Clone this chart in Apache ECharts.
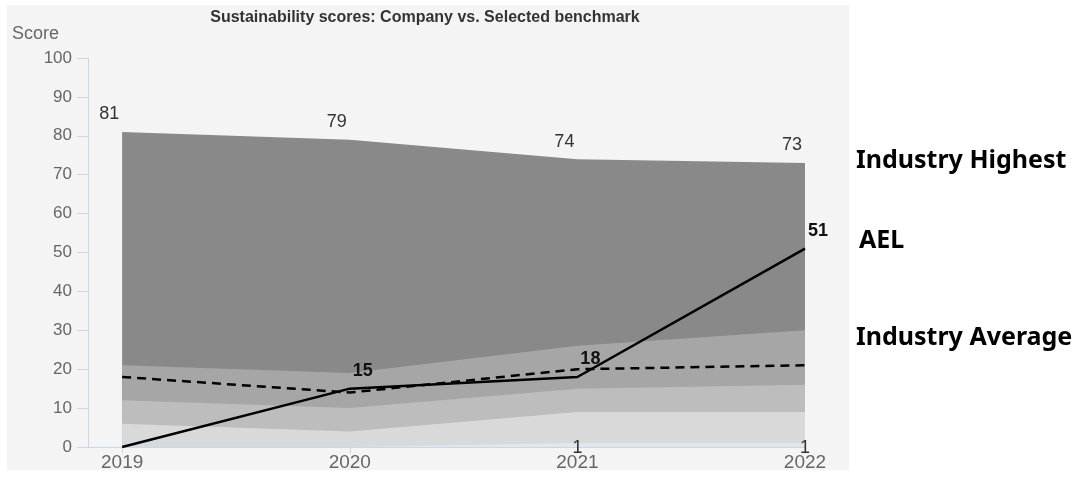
<!DOCTYPE html>
<html>
<head>
<meta charset="utf-8">
<script src="https://cdn.jsdelivr.net/npm/echarts@6/dist/echarts.min.js"></script>
<style>
html,body{margin:0;padding:0;background:#fff;}
#c{width:1074px;height:479px;}
</style>
</head>
<body>
<div id="c"></div>
<script>
const years = [2019, 2020, 2021, 2022];
const industryHighest = [81, 79, 74, 73];
const band3 = [21, 19, 26, 30];
const band2 = [12, 10, 15, 16];
const band1 = [6, 4, 9, 9];
const industryLowest = [0, 0, 1, 1];
const industryAverage = [18, 14, 20, 21];
const ael = [0, 15, 18, 51];
const yTicks = [0, 10, 20, 30, 40, 50, 60, 70, 80, 90, 100];

const pairs = arr => years.map((y, i) => [y, arr[i]]);
const font = 'Liberation Sans, Arial, sans-serif';
const hiddenSymbol = { symbol: 'circle', symbolSize: 1, showSymbol: true, itemStyle: { color: 'rgba(0,0,0,0)' } };

function areaSeries(name, arr, color, label) {
  return Object.assign({
    name, type: 'line', data: pairs(arr),
    lineStyle: { width: 0, color: color }, areaStyle: { color, opacity: 1 },
    label: label || { show: false }, silent: true
  }, hiddenSymbol);
}

const chart = echarts.init(document.getElementById('c'));
chart.setOption({
  animation: false,
  backgroundColor: '#ffffff',
  title: {
    text: 'Sustainability scores: Company vs. Selected benchmark',
    left: 420, top: 5, textAlign: 'center',
    textStyle: { fontFamily: font, fontSize: 16, fontWeight: 'bold', color: '#333' }
  },
  graphic: [
    { type: 'rect', z: -10, silent: true, shape: { x: 7, y: 5, width: 842, height: 465 }, style: { fill: '#f4f4f4' } },
    { type: 'text', left: 856, top: 148, style: { text: 'Industry Highest', font: 'bold 25px "Noto Sans", sans-serif', fill: '#000' } },
    { type: 'text', left: 859, top: 228, style: { text: 'AEL', font: 'bold 25px "Noto Sans", sans-serif', fill: '#000' } },
    { type: 'text', left: 856, top: 325, style: { text: 'Industry Average', font: 'bold 25px "Noto Sans", sans-serif', fill: '#000' } },
    { type: 'text', left: 12, top: 25, style: { text: 'Score', font: '18px ' + font, fill: '#666' } }
  ],
  grid: { left: 88, right: 269, top: 58, bottom: 32, containLabel: false },
  xAxis: {
    type: 'value', min: 2018.85, max: 2022,
    axisLine: { show: true, lineStyle: { color: '#ccd6eb' } },
    axisTick: { show: true, customValues: years, length: 6, lineStyle: { color: '#ccd6eb' } },
    splitLine: { show: false },
    axisLabel: {
      fontFamily: font, fontSize: 19, color: '#666', margin: 6,
      customValues: years, formatter: v => String(v)
    }
  },
  yAxis: {
    type: 'value', min: 0, max: 100, interval: 10,
    axisLine: { show: true, lineStyle: { color: '#ccd6eb' } },
    axisTick: { show: true, length: 11, lineStyle: { color: '#ccd6eb' } },
    splitLine: { show: false },
    axisLabel: { fontFamily: font, fontSize: 17, color: '#666', margin: 16,
      formatter: v => yTicks.includes(v) ? String(v) : '' }
  },
  series: [
    areaSeries('Industry Highest', industryHighest, '#898989', {
      show: true, position: 'top', offset: [-13, -3],
      fontFamily: font, fontSize: 18, color: '#333'
    }),
    areaSeries('Band 3', band3, '#a6a6a6'),
    areaSeries('Band 2', band2, '#bdbdbd'),
    areaSeries('Band 1', band1, '#d9d9d9'),
    areaSeries('Industry Lowest', industryLowest, '#e6e6e6', {
      show: true, position: 'inside', offset: [0, 5],
      fontFamily: font, fontSize: 18, color: '#333',
      formatter: p => p.value[1] ? String(p.value[1]) : ''
    }),
    {
      name: 'Industry Average', type: 'line', data: pairs(industryAverage), symbol: 'none',
      lineStyle: { color: '#000', width: 2.5, type: [9, 6] }, z: 5
    },
    Object.assign({
      name: 'AEL', type: 'line', data: pairs(ael),
      lineStyle: { color: '#000', width: 2.5 }, z: 6,
      label: {
        show: true, position: 'top', offset: [13, -3],
        fontFamily: font, fontSize: 18, fontWeight: 'bold', color: '#111',
        formatter: p => p.value[1] ? String(p.value[1]) : ''
      }
    }, hiddenSymbol)
  ]
});
</script>
</body>
</html>
